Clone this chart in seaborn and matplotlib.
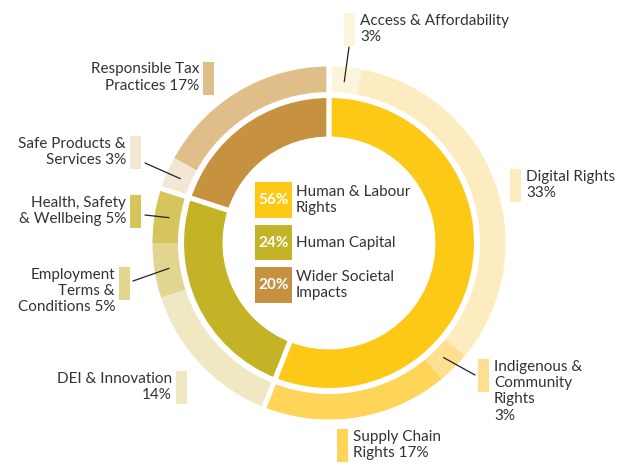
import matplotlib.pyplot as plt
import numpy as np
import seaborn as sns
from matplotlib.patches import Rectangle

# inner ring: main themes
group_names = ["Human & Labour\nRights", "Human Capital", "Wider Societal\nImpacts"]
group_values = [56, 24, 20]
group_colors = ["#FDC917", "#C4B326", "#C79240"]

# outer ring: topics, clockwise from 12 o'clock
topic_labels = [
    "Access & Affordability\n3%",
    "Digital Rights\n33%",
    "Indigenous &\nCommunity\nRights\n3%",
    "Supply Chain\nRights 17%",
    "DEI & Innovation\n14%",
    "Employment\nTerms &\nConditions 5%",
    "Health, Safety\n& Wellbeing 5%",
    "Safe Products &\nServices 3%",
    "Responsible Tax\nPractices 17%",
]
topic_values = [3, 33, 3, 17, 14, 5, 5, 3, 17]
topic_colors = ["#FDF4DC", "#FDECC0", "#FEDF90", "#FED559",
                "#F0E7C3", "#E1D58F", "#D5C55C",
                "#F3E6D3", "#DFBE8A"]

# label layout in pixels: swatch x, swatch top, text side, leader line start
label_layout = [
    (344, 13, "right", (349, 47)),
    (510, 169, "right", None),
    (478, 359, "right", (475, 375)),
    (337, 429, "right", None),
    (176, 371, "left", None),
    (119, 267, "left", (133, 281)),
    (130, 195, "left", (145, 215)),
    (130, 136, "left", (145, 163)),
    (203, 62, "left", None),
]

TEXT = "#333333"
CX, CY = 329, 243
R_OUT, W_OUT = 177, 26
R_IN, W_IN = 145, 39


def draw_chart():
    sns.set_theme(style="white")
    plt.rcParams["font.family"] = ["Lato", "DejaVu Sans"]

    fig = plt.figure(figsize=(6.24, 4.65), dpi=100)
    ax = fig.add_axes([0, 0, 1, 1])

    # with y inverted, counterclock in data is clockwise on screen
    ax.pie(topic_values, colors=topic_colors, center=(CX, CY), radius=R_OUT,
           startangle=-90, counterclock=True, frame=True,
           wedgeprops=dict(width=W_OUT, linewidth=0))
    ax.pie(group_values, colors=group_colors, center=(CX, CY), radius=R_IN,
           startangle=-90, counterclock=True, frame=True,
           wedgeprops=dict(width=W_IN, linewidth=0))
    # white gaps at theme boundaries across both rings
    ax.pie(group_values, colors=["none"] * 3, center=(CX, CY), radius=R_OUT + 2,
           startangle=-90, counterclock=True, frame=True,
           wedgeprops=dict(width=R_OUT - R_IN + W_IN + 4, linewidth=3.5,
                           edgecolor="white", facecolor="none"))
    # pixel coordinates, y pointing down
    ax.set_xlim(0, 624)
    ax.set_ylim(465, 0)
    ax.set_aspect("equal")
    ax.axis("off")

    # outer labels
    cum = np.cumsum([0] + topic_values)
    for i, (label, color) in enumerate(zip(topic_labels, topic_colors)):
        sx, top, side, lead = label_layout[i]
        ax.add_patch(Rectangle((sx, top), 11, 33, color=color, lw=0))
        if side == "right":
            ax.text(sx + 16, top + 0.5, label, ha="left", va="top",
                    fontsize=11, color=TEXT, linespacing=1.22)
        else:
            ax.text(sx - 4, top + 0.5, label, ha="right", va="top",
                    fontsize=11, color=TEXT, linespacing=1.22,
                    multialignment="right")
        if lead is not None:
            ang = np.deg2rad(-90 + (cum[i] + topic_values[i] / 2) * 3.6)
            ex = CX + 162 * np.cos(ang)
            ey = CY + 162 * np.sin(ang)
            ax.plot([lead[0], ex], [lead[1], ey], color="#222222", lw=0.9)

    # centre legend
    for j, (name, val, color) in enumerate(zip(group_names, group_values, group_colors)):
        top = 182 + j * 42.5
        ax.add_patch(Rectangle((255, top), 37, 35.5, color=color, lw=0))
        ax.text(273.5, top + 18, f"{val}%", ha="center", va="center",
                fontsize=11, fontweight="bold", color="white")
        ax.text(296, top + 18, name, ha="left", va="center",
                fontsize=11, color=TEXT, linespacing=1.15)

    fig.savefig("out.png", dpi=100)


if __name__ == "__main__":
    draw_chart()
